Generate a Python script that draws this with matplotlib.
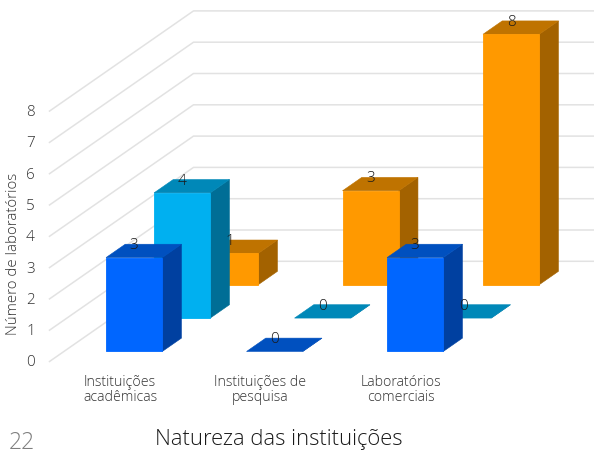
import matplotlib
matplotlib.use('Agg')
import matplotlib.pyplot as plt
from matplotlib.patches import Polygon

plt.rcParams['font.family'] = ['Open Sans', 'DejaVu Sans']
plt.rcParams['font.weight'] = 'light'

# data
categories = ['Instituições\nacadêmicas', 'Instituições de\npesquisa', 'Laboratórios\ncomerciais']
serie_azul = [3, 0, 3]
serie_ciano = [4, 0, 0]
serie_laranja = [1, 3, 8]
y_ticks = [0, 1, 2, 3, 4, 5, 6, 7, 8]

# (values, depth slot, front, top, side), drawn from the back to the front
series = [
    (serie_laranja, 2, '#FF9900', '#BF7300', '#A36200'),
    (serie_ciano, 1, '#00B0F0', '#0088B8', '#006E96'),
    (serie_azul, 0, '#0066FF', '#0050BF', '#0040A0'),
]

# oblique projection, in pixels
X0, Y0 = 49.5, 361.5
CAT_W = 140.5
UNIT = 31.3
DEPTH_X, DEPTH_Y = 48, 33.4
BAR_W = 0.4


def proj(cat, val, depth):
    return (X0 + cat * CAT_W + depth * DEPTH_X,
            Y0 - val * UNIT - depth * DEPTH_Y)


fig = plt.figure(figsize=(5.94, 4.54), dpi=100)
ax = fig.add_axes([0, 0, 1, 1])
ax.set_xlim(0, 594)
ax.set_ylim(454, 0)
ax.axis('off')

# gridlines on the floor side and the back wall
for v in y_ticks:
    x1, y1 = proj(0, v, 0)
    x2, y2 = proj(0, v, 3)
    ax.plot([x1, x2, 594], [y1, y2, y2], color='#E2E2E2', lw=1.1, zorder=1)
    ax.text(35, y1 + 1.5, str(v), ha='right', va='center', fontsize=11, color='#333333')

z = 2
labels = []
for vals, d, front, top, side in series:
    for i, v in enumerate(vals):
        c0 = i + 0.3
        c1 = c0 + BAR_W
        d0 = d + 0.3
        d1 = d + 0.7
        ax.add_patch(Polygon([proj(c1, 0, d0), proj(c1, 0, d1), proj(c1, v, d1), proj(c1, v, d0)],
                             fc=side, ec=side, lw=0.4, zorder=z))
        ax.add_patch(Polygon([proj(c0, v, d0), proj(c1, v, d0), proj(c1, v, d1), proj(c0, v, d1)],
                             fc=top, ec=top, lw=0.4, zorder=z))
        if v > 0:
            ax.add_patch(Polygon([proj(c0, 0, d0), proj(c1, 0, d0), proj(c1, v, d0), proj(c0, v, d0)],
                                 fc=front, ec=front, lw=0.6, zorder=z))
        lx = proj(i + 0.5, v, d0)[0]
        ly = proj(0, v, d1)[1]
        labels.append((lx, ly + 1.5, v))
        z += 1

for lx, ly, v in labels:
    ax.text(lx, ly, str(v), ha='center', va='center', fontsize=11, color='#1A1A1A', zorder=50)

for i, name in enumerate(categories):
    ax.text(120 + i * CAT_W, 390, name, ha='center', va='center', fontsize=10.2,
            color='#333333', linespacing=1.08)

ax.text(14, 254, 'Número de laboratórios', rotation=90, ha='center', va='center',
        fontsize=10.8, color='#333333')
ax.text(279, 439, 'Natureza das instituições', ha='center', va='center', fontsize=15.8, color='#1A1A1A')
ax.text(22, 443, '22', ha='center', va='center', fontsize=16.5, color='#7F7F7F')

fig.savefig('out.png', dpi=100)
